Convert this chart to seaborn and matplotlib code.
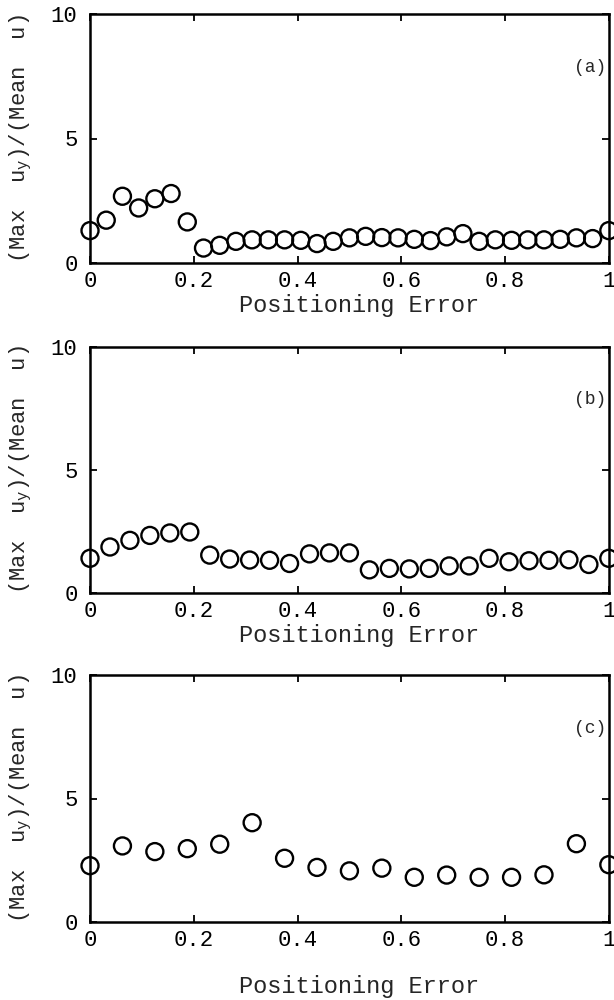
import numpy as np
import pandas as pd
import seaborn as sns
import matplotlib.pyplot as plt

x_a = np.linspace(0, 1, 33)
y_a = [1.30, 1.72, 2.68, 2.21, 2.58, 2.79, 1.65, 0.60, 0.71, 0.87, 0.93,
       0.93, 0.93, 0.91, 0.78, 0.87, 1.01, 1.07, 1.02, 1.01, 0.95, 0.90,
       1.05, 1.18, 0.87, 0.93, 0.91, 0.93, 0.93, 0.95, 1.01, 0.98, 1.30]

x_b = np.linspace(0, 1, 27)
y_b = [1.41, 1.87, 2.14, 2.34, 2.44, 2.48, 1.54, 1.38, 1.34, 1.33, 1.20,
       1.59, 1.63, 1.63, 0.94, 1.00, 0.98, 1.00, 1.10, 1.10, 1.41, 1.27,
       1.31, 1.33, 1.35, 1.16, 1.41]

x_c = np.linspace(0, 1, 17)
y_c = [2.28, 3.08, 2.85, 2.97, 3.15, 4.02, 2.58, 2.21, 2.07, 2.18, 1.81,
       1.90, 1.81, 1.81, 1.91, 3.17, 2.32]

panel_labels = ["(a)", "(b)", "(c)"]
x_ticks = [0, 0.2, 0.4, 0.6, 0.8, 1]
x_tick_labels = ["0", "0.2", "0.4", "0.6", "0.8", "1"]
y_ticks = [0, 5, 10]

sns.set_style("ticks")
plt.rcParams["font.family"] = ["Liberation Mono", "DejaVu Sans Mono"]
plt.rcParams["font.size"] = 16

fig = plt.figure(figsize=(6.14, 10), dpi=100)
rects = [
    [0.1466, 0.737, 0.845, 0.249],
    [0.1466, 0.407, 0.845, 0.246],
    [0.1466, 0.078, 0.845, 0.247],
]
series = [(x_a, y_a), (x_b, y_b), (x_c, y_c)]
xpads = [1, 1, 17]

for rect, (xs, ys), lab, xpad in zip(rects, series, panel_labels, xpads):
    ax = fig.add_axes(rect)
    df = pd.DataFrame({"x": xs, "y": ys})
    sns.scatterplot(data=df, x="x", y="y", ax=ax, marker="o", s=150,
                    facecolor="none", edgecolor="black", linewidth=1.7,
                    clip_on=False, zorder=3)
    ax.set_xlim(0, 1)
    ax.set_ylim(0, 10)
    ax.set_xticks(x_ticks)
    ax.set_xticklabels(x_tick_labels)
    ax.set_yticks(y_ticks)
    ax.tick_params(direction="in", top=True, right=True, length=5,
                   width=1.3, colors="black", labelsize=16)
    ax.tick_params(axis="x", pad=6)
    ax.tick_params(axis="y", pad=9)
    for sp in ax.spines.values():
        sp.set_linewidth(1.8)
        sp.set_color("black")
        sp.set_visible(True)
    ax.set_xlabel("Positioning Error", fontsize=17, labelpad=xpad)
    ax.xaxis.label.set_x(0.518)
    ax.set_ylabel(r"(Max  u$_\mathregular{y}$)/(Mean  u)", fontsize=16,
                  labelpad=12)
    ax.text(0.995, 7.85, lab, transform=ax.get_yaxis_transform(),
            ha="right", va="center", fontsize=13)

fig.savefig("out.png", dpi=100)
